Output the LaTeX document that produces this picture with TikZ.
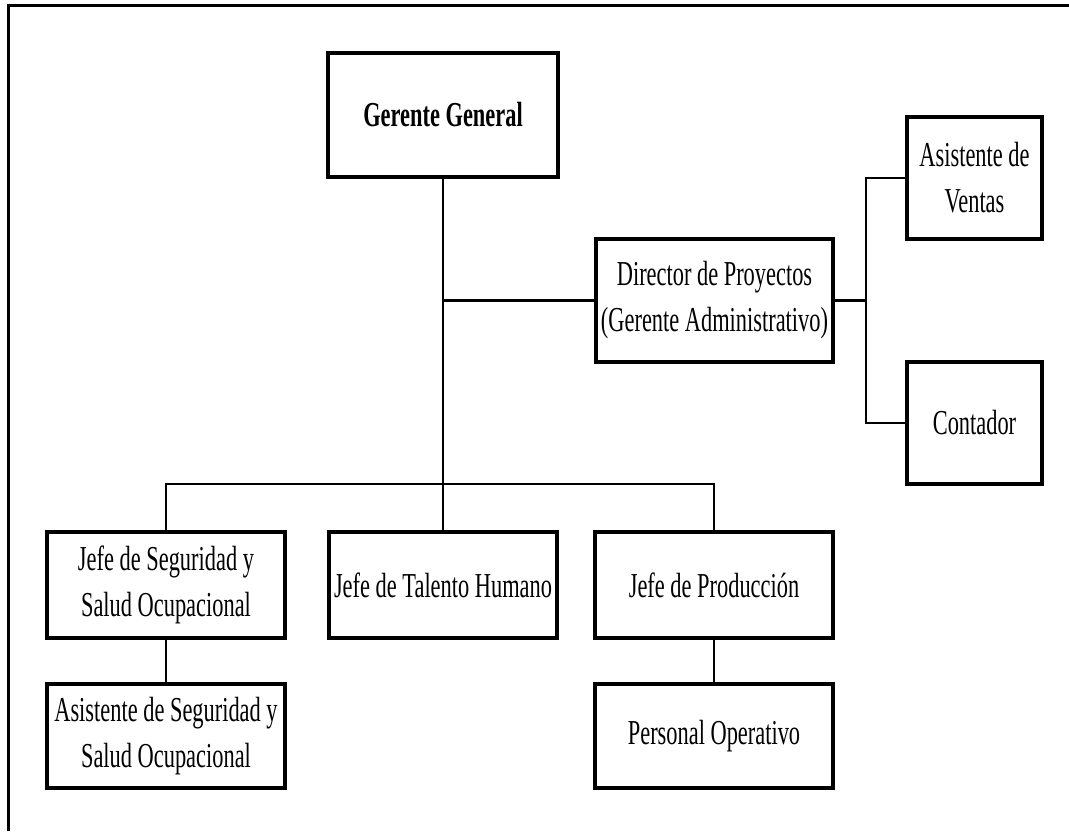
\documentclass[tikz,border=0pt]{standalone}
\usepackage{fontspec}
\setmainfont{Liberation Serif}[FakeStretch=0.64]
\begin{document}
\begin{tikzpicture}[x=1pt, y=-1pt,
  post/.style={draw, line width=3.2pt, rectangle, inner sep=0pt, align=center,
    font=\fontsize{35}{46}\selectfont, text=black},
  link/.style={line width=2.6pt, line join=miter}]
\useasboundingbox (0,0) rectangle (1069,831);

% page frame (left and top edges)
\draw[line width=3pt] (8,831) -- (8,5) -- (1069,5);

% boxes
\node[post, minimum width=230pt, minimum height=124pt] (gg) at (443,115) {\textbf{Gerente General}};
\node[post, minimum width=237pt, minimum height=123pt] (dir) at (714.5,300.5) {Director de Proyectos\\(Gerente Administrativo)};
\node[post, minimum width=135pt, minimum height=122pt] (av) at (974.5,178) {Asistente de\\Ventas};
\node[post, minimum width=135pt, minimum height=122pt] (cont) at (974.5,423) {Contador};
\node[post, minimum width=238pt, minimum height=106pt] (jss) at (166,585) {Jefe de Seguridad y\\Salud Ocupacional};
\node[post, minimum width=228pt, minimum height=106pt] (jth) at (443,585) {Jefe de Talento Humano};
\node[post, minimum width=238pt, minimum height=106pt] (jp) at (714,585) {Jefe de Producción};
\node[post, minimum width=238pt, minimum height=104pt] (ass) at (166,736) {Asistente de Seguridad y\\Salud Ocupacional};
\node[post, minimum width=238pt, minimum height=104pt] (po) at (714,736) {Personal Operativo};

% junction points
\coordinate (bus) at (443,484);
\coordinate (rb) at (866,300.5);

% connectors
\draw[link] (gg.south) -- (jth.north);
\draw[link] (gg.south |- dir.west) -- (dir.west);
\draw[link] (jss.north) -- (jss.north |- bus) -- (jp.north |- bus) -- (jp.north);
\draw[link] (dir.east) -- (rb);
\draw[link] (av.west) -- (av.west -| rb) -- (cont.west -| rb) -- (cont.west);
\draw[link] (jss.south) -- (ass.north);
\draw[link] (jp.south) -- (po.north);
\end{tikzpicture}
\end{document}
